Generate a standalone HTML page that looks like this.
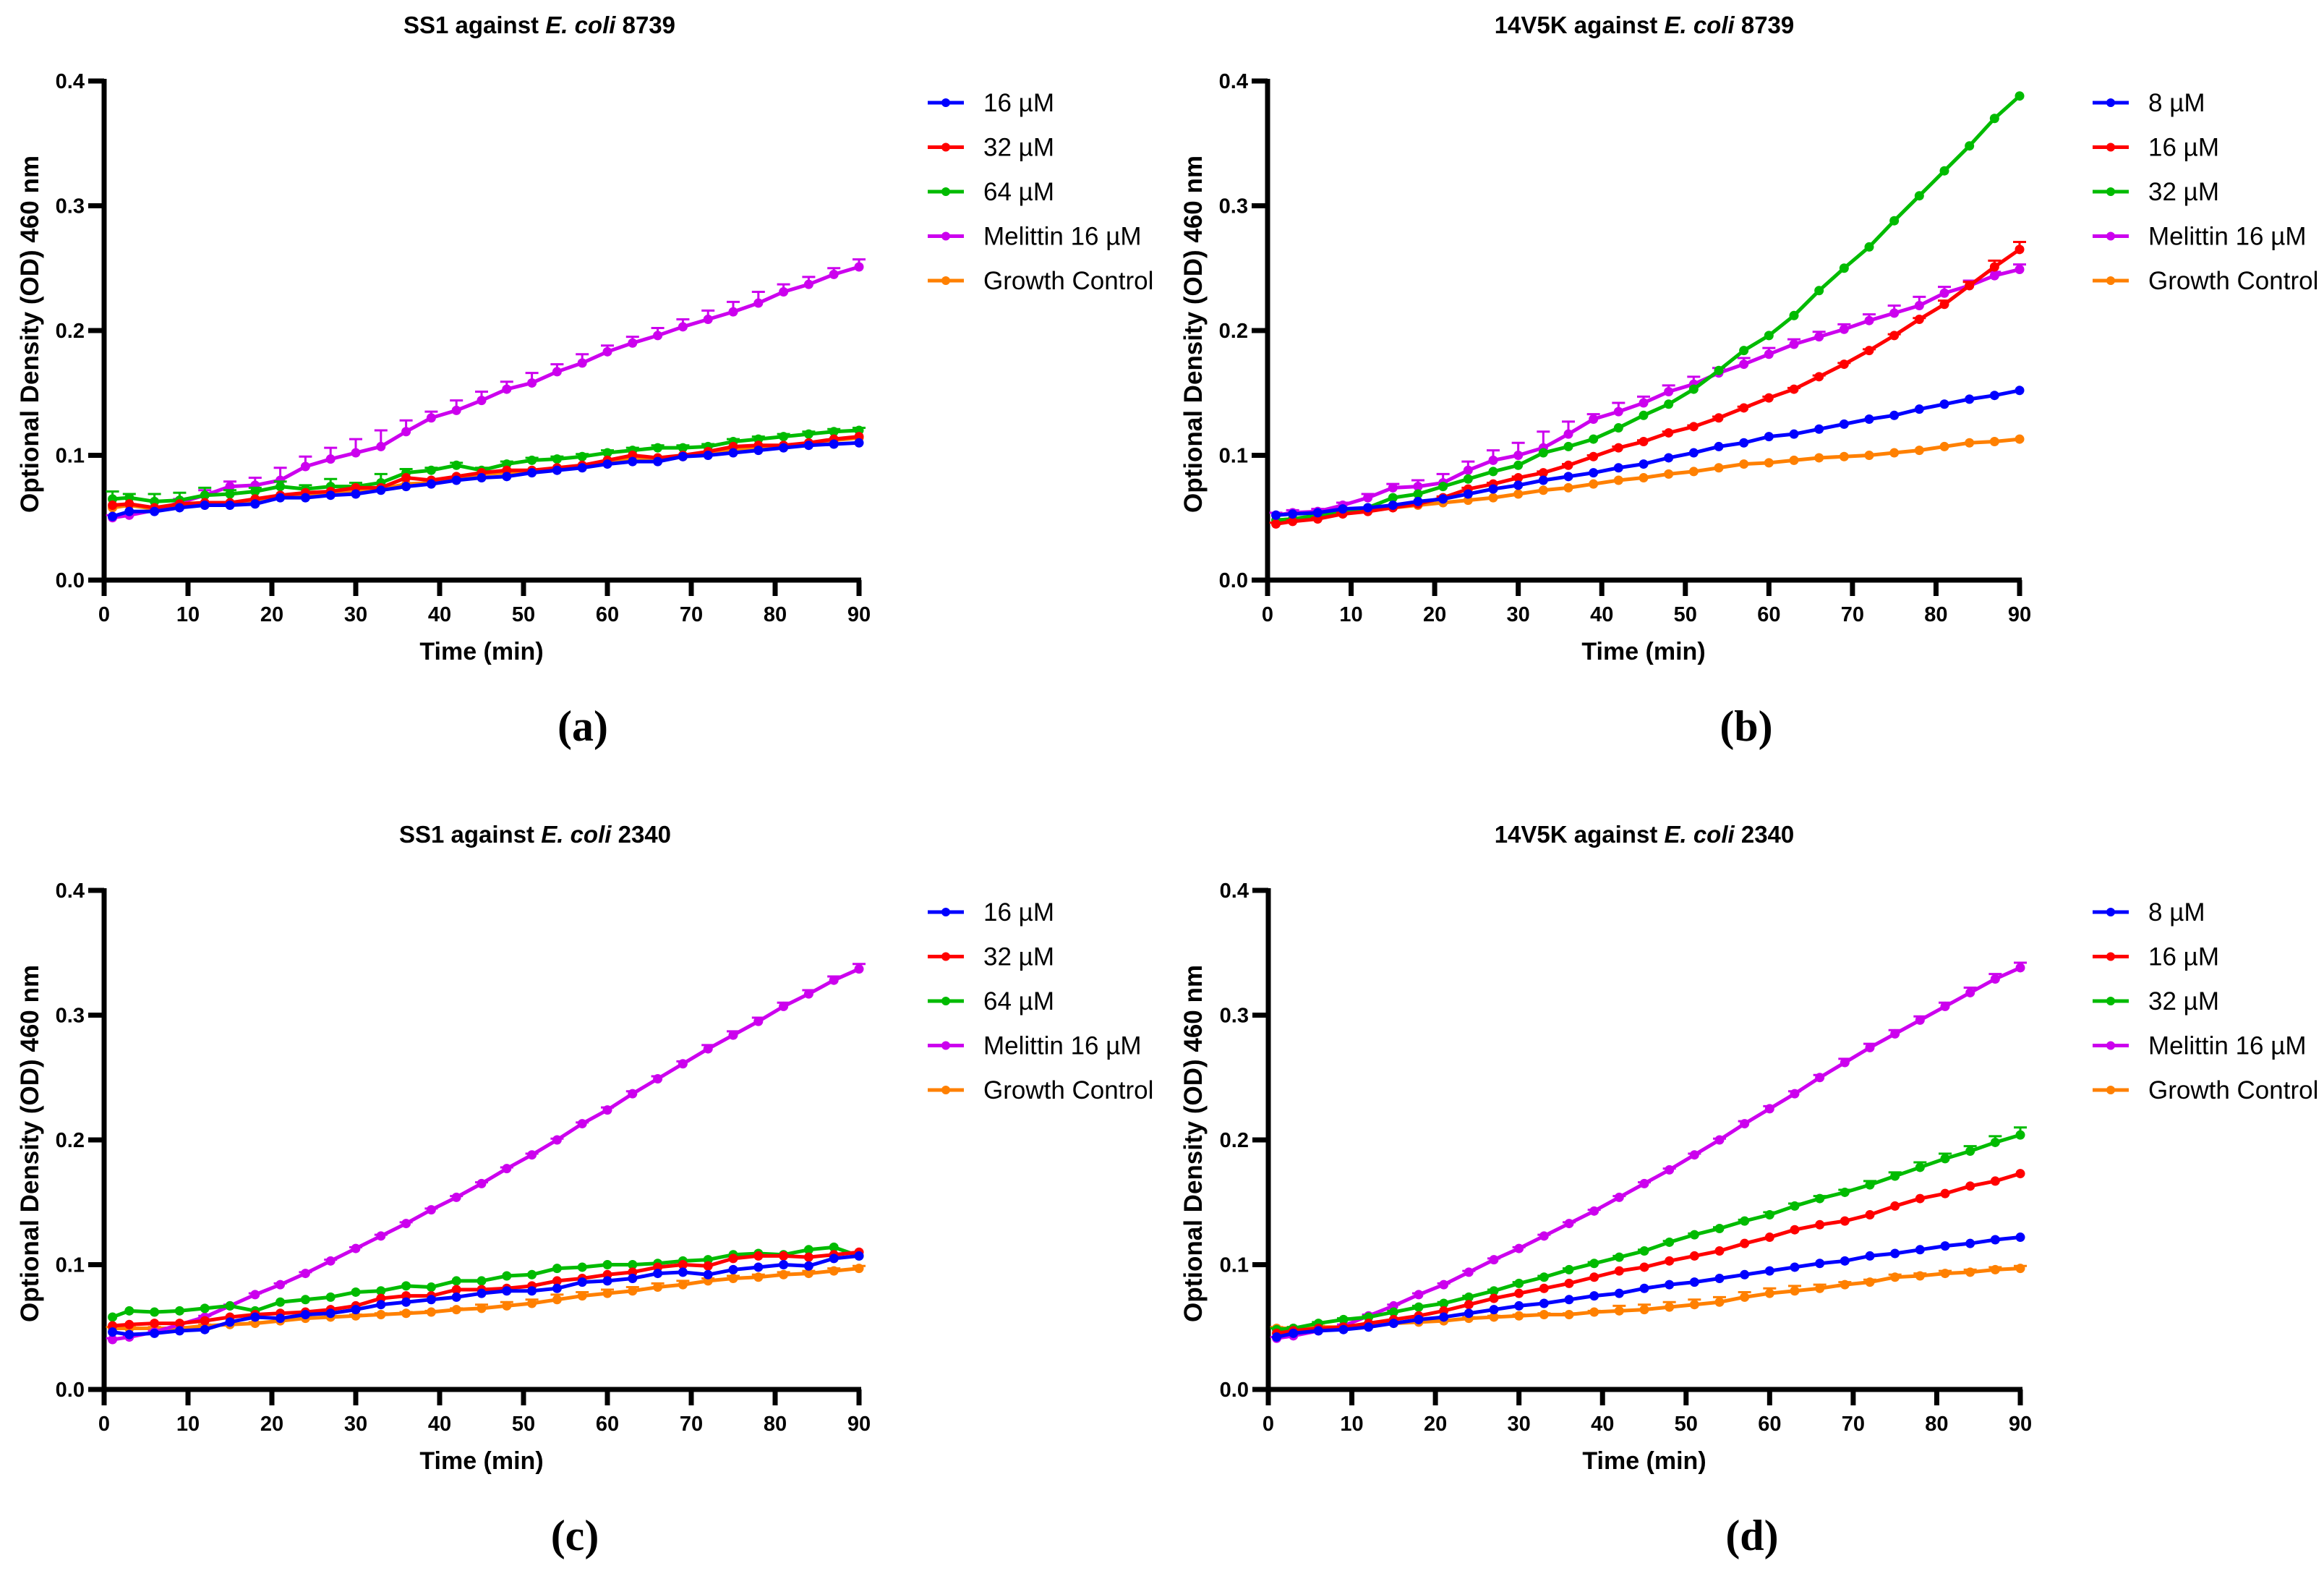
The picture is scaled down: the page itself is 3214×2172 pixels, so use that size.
<!DOCTYPE html>
<html><head><meta charset="utf-8"><style>
html,body{margin:0;padding:0;background:#fff;}
svg{display:block;}
text{font-family:"Liberation Sans",Arial,sans-serif;}
</style></head><body>
<svg id="fig" width="3214" height="2172" viewBox="0 0 3214 2172" xmlns="http://www.w3.org/2000/svg"></svg>
<script>
const times=[1,3,6,9,12,15,18,21,24,27,30,33,36,39,42,45,48,51,54,57,60,63,66,69,72,75,78,81,84,87,90];
const xTicks=[0,10,20,30,40,50,60,70,80,90];
const yTicks=[0,0.1,0.2,0.3,0.4];
const yTickLabels=["0.0","0.1","0.2","0.3","0.4"];
const colors=["#0000ff","#ff0000","#00bb00","#cc00ee","#ff8000"];
const legendA=["16 µM","32 µM","64 µM","Melittin 16 µM","Growth Control"];
const legendB=["8 µM","16 µM","32 µM","Melittin 16 µM","Growth Control"];

const aBlue=[0.051,0.055,0.055,0.058,0.060,0.060,0.061,0.066,0.066,0.068,0.069,0.072,0.075,0.077,0.080,0.082,0.083,0.086,0.088,0.090,0.093,0.095,0.095,0.099,0.100,0.102,0.104,0.106,0.108,0.109,0.110];
const aRed=[0.060,0.061,0.058,0.061,0.062,0.062,0.065,0.068,0.070,0.071,0.074,0.074,0.082,0.080,0.083,0.086,0.088,0.088,0.090,0.092,0.096,0.100,0.098,0.100,0.103,0.107,0.108,0.108,0.110,0.113,0.115];
const aGreen=[0.065,0.066,0.063,0.064,0.068,0.069,0.071,0.075,0.073,0.075,0.075,0.078,0.086,0.088,0.092,0.088,0.093,0.096,0.097,0.099,0.102,0.104,0.106,0.106,0.107,0.111,0.113,0.115,0.117,0.119,0.120];
const aMel=[0.050,0.052,0.056,0.062,0.068,0.075,0.076,0.080,0.091,0.097,0.102,0.107,0.119,0.130,0.136,0.144,0.153,0.158,0.167,0.174,0.183,0.190,0.196,0.203,0.209,0.215,0.222,0.231,0.237,0.245,0.251];
const aGrowth=[0.058,0.060,0.057,0.060,0.061,0.061,0.064,0.067,0.069,0.070,0.072,0.073,0.077,0.078,0.082,0.085,0.086,0.087,0.089,0.091,0.095,0.098,0.097,0.099,0.102,0.105,0.106,0.107,0.109,0.112,0.114];
const aMelErr=[0.002,0.002,0.003,0.003,0.004,0.004,0.006,0.010,0.008,0.009,0.011,0.013,0.009,0.005,0.008,0.007,0.006,0.008,0.006,0.007,0.005,0.005,0.006,0.006,0.007,0.008,0.009,0.006,0.006,0.005,0.006];
const aGreenErr=[0.006,0.003,0.006,0.006,0.006,0.003,0.003,0.004,0.003,0.006,0.003,0.007,0.003,0.002,0.002,0.002,0.002,0.002,0.002,0.002,0.002,0.002,0.002,0.002,0.002,0.002,0.002,0.002,0.002,0.002,0.002];

const bBlue=[0.052,0.053,0.054,0.057,0.058,0.060,0.063,0.065,0.069,0.073,0.076,0.080,0.083,0.086,0.090,0.093,0.098,0.102,0.107,0.110,0.115,0.117,0.121,0.125,0.129,0.132,0.137,0.141,0.145,0.148,0.152];
const bRed=[0.045,0.047,0.049,0.053,0.055,0.058,0.061,0.066,0.073,0.077,0.082,0.086,0.092,0.099,0.106,0.111,0.118,0.123,0.130,0.138,0.146,0.153,0.163,0.173,0.184,0.196,0.209,0.221,0.236,0.251,0.265];
const bGreen=[0.048,0.049,0.052,0.055,0.058,0.066,0.069,0.075,0.081,0.087,0.092,0.102,0.107,0.113,0.122,0.132,0.141,0.153,0.168,0.184,0.196,0.212,0.232,0.250,0.267,0.288,0.308,0.328,0.348,0.370,0.388];
const bMel=[0.052,0.054,0.055,0.060,0.066,0.074,0.075,0.078,0.088,0.096,0.100,0.106,0.117,0.129,0.135,0.142,0.151,0.157,0.166,0.173,0.181,0.189,0.195,0.201,0.208,0.214,0.220,0.230,0.236,0.244,0.249];
const bGrowth=[0.048,0.049,0.050,0.054,0.056,0.058,0.060,0.062,0.064,0.066,0.069,0.072,0.074,0.077,0.080,0.082,0.085,0.087,0.090,0.093,0.094,0.096,0.098,0.099,0.100,0.102,0.104,0.107,0.110,0.111,0.113];
const bMelErr=[0.002,0.002,0.002,0.002,0.003,0.003,0.005,0.007,0.007,0.008,0.010,0.013,0.010,0.004,0.007,0.005,0.005,0.006,0.004,0.005,0.005,0.004,0.004,0.004,0.005,0.006,0.007,0.005,0.004,0.003,0.004];
const bRedErr=[0.001,0.001,0.001,0.001,0.001,0.001,0.001,0.001,0.001,0.001,0.001,0.001,0.001,0.001,0.001,0.001,0.001,0.001,0.001,0.001,0.001,0.001,0.001,0.001,0.001,0.001,0.001,0.003,0.003,0.005,0.006];

const cBlue=[0.046,0.044,0.045,0.047,0.048,0.054,0.058,0.057,0.060,0.061,0.064,0.068,0.070,0.072,0.074,0.077,0.079,0.079,0.081,0.086,0.087,0.089,0.093,0.094,0.092,0.096,0.098,0.100,0.099,0.105,0.107];
const cRed=[0.051,0.052,0.053,0.053,0.055,0.058,0.060,0.061,0.062,0.064,0.067,0.073,0.075,0.075,0.080,0.080,0.081,0.083,0.087,0.089,0.092,0.094,0.098,0.100,0.099,0.105,0.107,0.107,0.106,0.108,0.110];
const cGreen=[0.058,0.063,0.062,0.063,0.065,0.067,0.063,0.070,0.072,0.074,0.078,0.079,0.083,0.082,0.087,0.087,0.091,0.092,0.097,0.098,0.100,0.100,0.101,0.103,0.104,0.108,0.109,0.108,0.112,0.114,0.107];
const cMel=[0.040,0.042,0.046,0.052,0.058,0.067,0.076,0.084,0.093,0.103,0.113,0.123,0.133,0.144,0.154,0.165,0.177,0.188,0.200,0.213,0.224,0.237,0.249,0.261,0.273,0.284,0.295,0.307,0.317,0.328,0.337];
const cGrowth=[0.049,0.049,0.049,0.049,0.051,0.052,0.053,0.055,0.057,0.058,0.059,0.060,0.061,0.062,0.064,0.065,0.067,0.069,0.072,0.075,0.077,0.079,0.082,0.084,0.087,0.089,0.090,0.092,0.093,0.095,0.097];
const cMelErr=[0.001,0.001,0.001,0.001,0.001,0.001,0.001,0.001,0.001,0.001,0.001,0.001,0.001,0.001,0.001,0.001,0.001,0.001,0.001,0.001,0.002,0.002,0.002,0.002,0.003,0.003,0.003,0.003,0.003,0.003,0.004];
const cGrowthErr=[0.001,0.001,0.001,0.001,0.001,0.001,0.001,0.001,0.001,0.001,0.001,0.001,0.001,0.001,0.001,0.003,0.003,0.003,0.004,0.003,0.003,0.003,0.003,0.003,0.002,0.002,0.002,0.002,0.002,0.002,0.002];

const dBlue=[0.042,0.045,0.047,0.048,0.050,0.053,0.056,0.058,0.061,0.064,0.067,0.069,0.072,0.075,0.077,0.081,0.084,0.086,0.089,0.092,0.095,0.098,0.101,0.103,0.107,0.109,0.112,0.115,0.117,0.120,0.122];
const dRed=[0.045,0.047,0.049,0.050,0.053,0.056,0.059,0.063,0.068,0.073,0.077,0.081,0.085,0.090,0.095,0.098,0.103,0.107,0.111,0.117,0.122,0.128,0.132,0.135,0.140,0.147,0.153,0.157,0.163,0.167,0.173];
const dGreen=[0.048,0.049,0.053,0.056,0.058,0.062,0.066,0.069,0.074,0.079,0.085,0.090,0.096,0.101,0.106,0.111,0.118,0.124,0.129,0.135,0.140,0.147,0.153,0.158,0.164,0.171,0.178,0.185,0.191,0.198,0.204];
const dMel=[0.041,0.043,0.047,0.051,0.059,0.067,0.076,0.084,0.094,0.104,0.113,0.123,0.133,0.143,0.154,0.165,0.176,0.188,0.200,0.213,0.225,0.237,0.250,0.262,0.274,0.285,0.296,0.307,0.318,0.329,0.338];
const dGrowth=[0.049,0.049,0.050,0.050,0.051,0.053,0.054,0.055,0.057,0.058,0.059,0.060,0.060,0.062,0.063,0.064,0.066,0.068,0.070,0.074,0.077,0.079,0.081,0.084,0.086,0.090,0.091,0.093,0.094,0.096,0.097];
const dMelErr=[0.001,0.001,0.001,0.001,0.001,0.001,0.001,0.001,0.001,0.001,0.001,0.001,0.001,0.001,0.001,0.001,0.001,0.001,0.001,0.002,0.002,0.002,0.002,0.003,0.003,0.003,0.003,0.003,0.004,0.004,0.004];
const dGreenErr=[0.001,0.001,0.001,0.001,0.001,0.001,0.001,0.001,0.001,0.001,0.001,0.001,0.001,0.001,0.001,0.001,0.001,0.001,0.001,0.001,0.002,0.002,0.002,0.002,0.003,0.003,0.004,0.004,0.004,0.005,0.006];
const dGrowthErr=[0.001,0.001,0.001,0.001,0.001,0.001,0.001,0.001,0.001,0.001,0.001,0.001,0.001,0.001,0.004,0.004,0.004,0.004,0.004,0.004,0.004,0.004,0.003,0.002,0.002,0.002,0.002,0.002,0.002,0.002,0.002];

const NS="http://www.w3.org/2000/svg";
const svg=document.getElementById('fig');
function mk(tag,attrs,parent){const e=document.createElementNS(NS,tag);for(const k in attrs)e.setAttribute(k,attrs[k]);(parent||svg).appendChild(e);return e;}

const panels=[
 {key:'a',ox:144,oy:802,w:1044,h:690,strain:'SS1',num:'8739',tx:746,ty:46,yx:41,lx:1283,lbx:806,leg:legendA,
  series:[aBlue,aRed,aGreen,aMel,aGrowth],errs:[null,null,aGreenErr,aMelErr,null]},
 {key:'b',ox:1753,oy:802,w:1040,h:690,strain:'14V5K',num:'8739',tx:2274,ty:46,yx:1650,lx:2894,lbx:2415,leg:legendB,
  series:[bBlue,bRed,bGreen,bMel,bGrowth],errs:[null,bRedErr,null,bMelErr,null]},
 {key:'c',ox:144,oy:1921,w:1044,h:690,strain:'SS1',num:'2340',tx:740,ty:1165,yx:41,lx:1283,lbx:795,leg:legendA,
  series:[cBlue,cRed,cGreen,cMel,cGrowth],errs:[null,null,null,cMelErr,cGrowthErr]},
 {key:'d',ox:1754,oy:1921,w:1040,h:690,strain:'14V5K',num:'2340',tx:2274,ty:1165,yx:1650,lx:2894,lbx:2423,leg:legendB,
  series:[dBlue,dRed,dGreen,dMel,dGrowth],errs:[null,null,dGreenErr,dMelErr,dGrowthErr]}
];

panels.forEach(p=>{
 const g=mk('g',{});
 
 
 const X=t=>p.ox+t/90*p.w;
 const Y=v=>p.oy-v/0.4*p.h;
 const t=mk('text',{x:p.tx,y:p.ty,'text-anchor':'middle','font-size':33,'font-weight':'bold'},g);
 
 
 t.innerHTML=p.strain+' against <tspan font-style="italic">E. coli</tspan> '+p.num;
 const yt=mk('text',{x:0,y:0,'text-anchor':'middle','font-size':35,'font-weight':'bold',transform:`translate(${p.yx+12},${p.oy-p.h/2+5}) rotate(-90)`},g);
 
 
 yt.textContent='Optional Density (OD) 460 nm';
 const xt=mk('text',{x:p.ox+p.w/2,y:p.oy+110,'text-anchor':'middle','font-size':34,'font-weight':'bold'},g);
 
 
 xt.textContent='Time (min)';
 const ax=mk('g',{stroke:'#000','stroke-width':7,fill:'none'},g);
 
 
 mk('line',{x1:p.ox,y1:Y(0.4)-3,x2:p.ox,y2:p.oy+22},ax);
 mk('line',{x1:p.ox-22,y1:p.oy,x2:p.ox+p.w+3,y2:p.oy},ax);
 xTicks.forEach(v=>{
  if(v>0) mk('line',{x1:X(v),y1:p.oy,x2:X(v),y2:p.oy+22},ax);
  const l=mk('text',{x:X(v),y:p.oy+57,'text-anchor':'middle','font-size':29,'font-weight':'bold'},g);
  
  
  l.textContent=v;
 });
 yTicks.forEach((v,i)=>{
  if(v>0) mk('line',{x1:p.ox-22,y1:Y(v),x2:p.ox,y2:Y(v)},ax);
  const l=mk('text',{x:p.ox-27,y:Y(v)+10,'text-anchor':'end','font-size':29,'font-weight':'bold'},g);
  
  
  l.textContent=yTickLabels[i];
 });
 const order=[4,3,2,1,0];
 order.forEach(si=>{
  const vals=p.series[si], err=p.errs[si], col=colors[si];
  const sg=mk('g',{},g);
  
  
  if(err){
   vals.forEach((v,i)=>{
    const x=X(times[i]),y1=Y(v),y2=Y(v+err[i]);
    mk('path',{d:`M${x},${y1}V${y2}M${x-9},${y2}H${x+9}`,stroke:col,'stroke-width':3,fill:'none'},sg);
   });
  }
  mk('polyline',{points:vals.map((v,i)=>X(times[i])+','+Y(v)).join(' '),stroke:col,'stroke-width':5,fill:'none','stroke-linejoin':'round'},sg);
  vals.forEach((v,i)=>{
   const c=mk('circle',{cx:X(times[i]),cy:Y(v),r:6.5,fill:col},sg);
   
   
  });
 });
 const lg=mk('g',{},g);
 
 
 p.leg.forEach((name,i)=>{
  const y=p.oy-660+i*61.5;
  const e=mk('g',{},lg);
  
  
  mk('line',{x1:p.lx,y1:y,x2:p.lx+50,y2:y,stroke:colors[i],'stroke-width':5},e);
  mk('circle',{cx:p.lx+25,cy:y,r:6,fill:colors[i]},e);
  const tx=mk('text',{x:p.lx+77,y:y+12,'font-size':35},e);
  tx.textContent=name;
 });
 const pl=mk('text',{x:p.lbx,y:p.oy+222,'text-anchor':'middle','font-size':60,'font-weight':'bold',style:'font-family:"Liberation Serif",serif'},g);
 
 
 pl.textContent='('+p.key+')';
});
</script>
</body></html>
